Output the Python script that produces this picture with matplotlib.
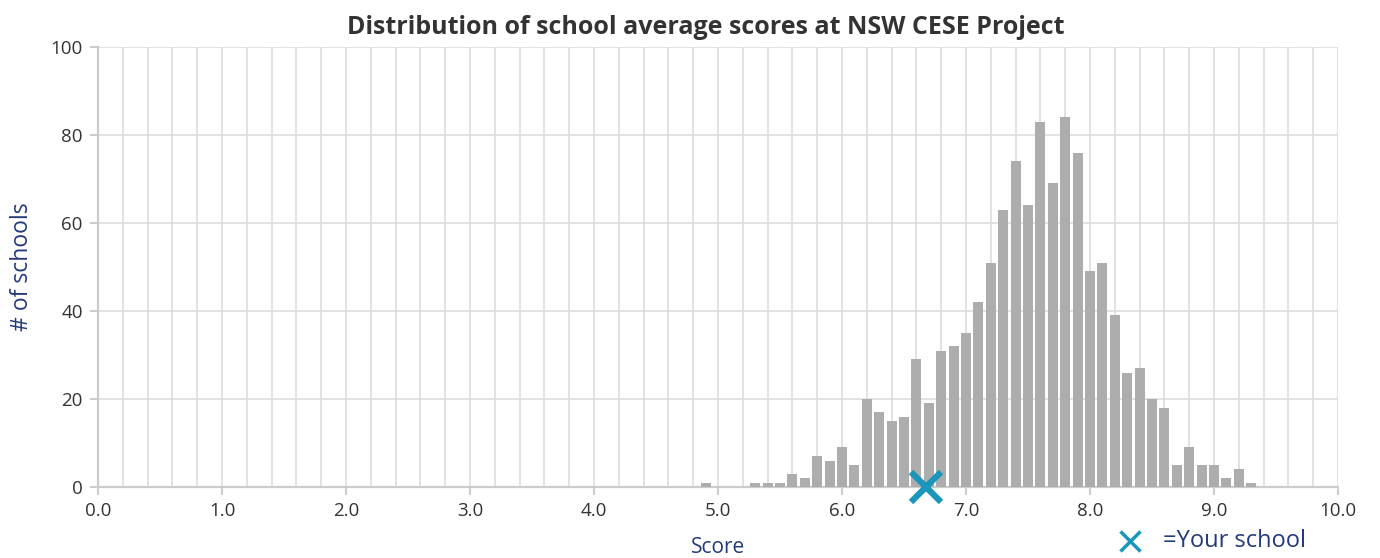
import numpy as np
import matplotlib
matplotlib.use("Agg")
import matplotlib.pyplot as plt
from matplotlib.ticker import MultipleLocator, FormatStrFormatter

plt.rcParams['font.family'] = ['Open Sans', 'DejaVu Sans']

# histogram bins (bin centres, width 0.1) and counts
scores = [4.9, 5.0, 5.1, 5.2, 5.3, 5.4, 5.5, 5.6, 5.7, 5.8, 5.9,
          6.0, 6.1, 6.2, 6.3, 6.4, 6.5, 6.6, 6.7, 6.8, 6.9,
          7.0, 7.1, 7.2, 7.3, 7.4, 7.5, 7.6, 7.7, 7.8, 7.9,
          8.0, 8.1, 8.2, 8.3, 8.4, 8.5, 8.6, 8.7, 8.8, 8.9,
          9.0, 9.1, 9.2, 9.3]
counts = [1, 0, 0, 0, 1, 1, 1, 3, 2, 7, 6,
          9, 5, 20, 17, 15, 16, 29, 19, 31, 32,
          35, 42, 51, 63, 74, 64, 83, 69, 84, 76,
          49, 51, 39, 26, 27, 20, 18, 5, 9, 5,
          5, 2, 4, 1]
your_school = 6.68

grid_col = '#dddddd'
spine_col = '#cccccc'
navy = '#253a7a'
teal = '#1b96bb'

fig = plt.figure(figsize=(13.8, 5.58), dpi=100)
ax = fig.add_axes([0.0710, 0.1272, 0.8986, 0.7886])

ax.bar(scores, counts, width=0.08, color='#adadae', zorder=3)
ax.plot([your_school], [0], marker='x', markersize=22, mew=4.5, color=teal,
        linestyle='none', clip_on=False, zorder=5)

ax.set_xlim(0, 10)
ax.set_ylim(0, 100)
ax.xaxis.set_major_locator(MultipleLocator(1))
ax.xaxis.set_minor_locator(MultipleLocator(0.2))
ax.xaxis.set_major_formatter(FormatStrFormatter('%.1f'))
ax.yaxis.set_major_locator(MultipleLocator(20))

ax.grid(which='both', axis='x', color=grid_col, lw=1.2, zorder=0)
ax.grid(which='major', axis='y', color=grid_col, lw=1.2, zorder=0)
for s in ['top', 'right']:
    ax.spines[s].set_visible(False)
for s in ['left', 'bottom']:
    ax.spines[s].set_color(spine_col)
    ax.spines[s].set_linewidth(1.6)
    ax.spines[s].set_zorder(2)

ax.tick_params(which='major', length=6, width=1.4, color=spine_col,
               labelsize=13.5, labelcolor='#333333', pad=5)
ax.tick_params(which='minor', length=0)

ax.set_xlabel('Score', fontsize=15, color=navy, labelpad=12)
ax.set_ylabel('# of schools', fontsize=16.5, color=navy, labelpad=12)
ax.set_title('Distribution of school average scores at NSW CESE Project',
             fontsize=18, fontweight='bold', color='#333333', pad=9, x=0.49)

# legend for the marker
fig.add_artist(plt.Line2D([0.8188], [0.031], marker='x', markersize=15, mew=2.5,
                          color=teal, linestyle='none', transform=fig.transFigure))
fig.text(0.843, 0.031, '=Your school', fontsize=17, color=navy, va='center')

fig.savefig('out.png', dpi=100)
